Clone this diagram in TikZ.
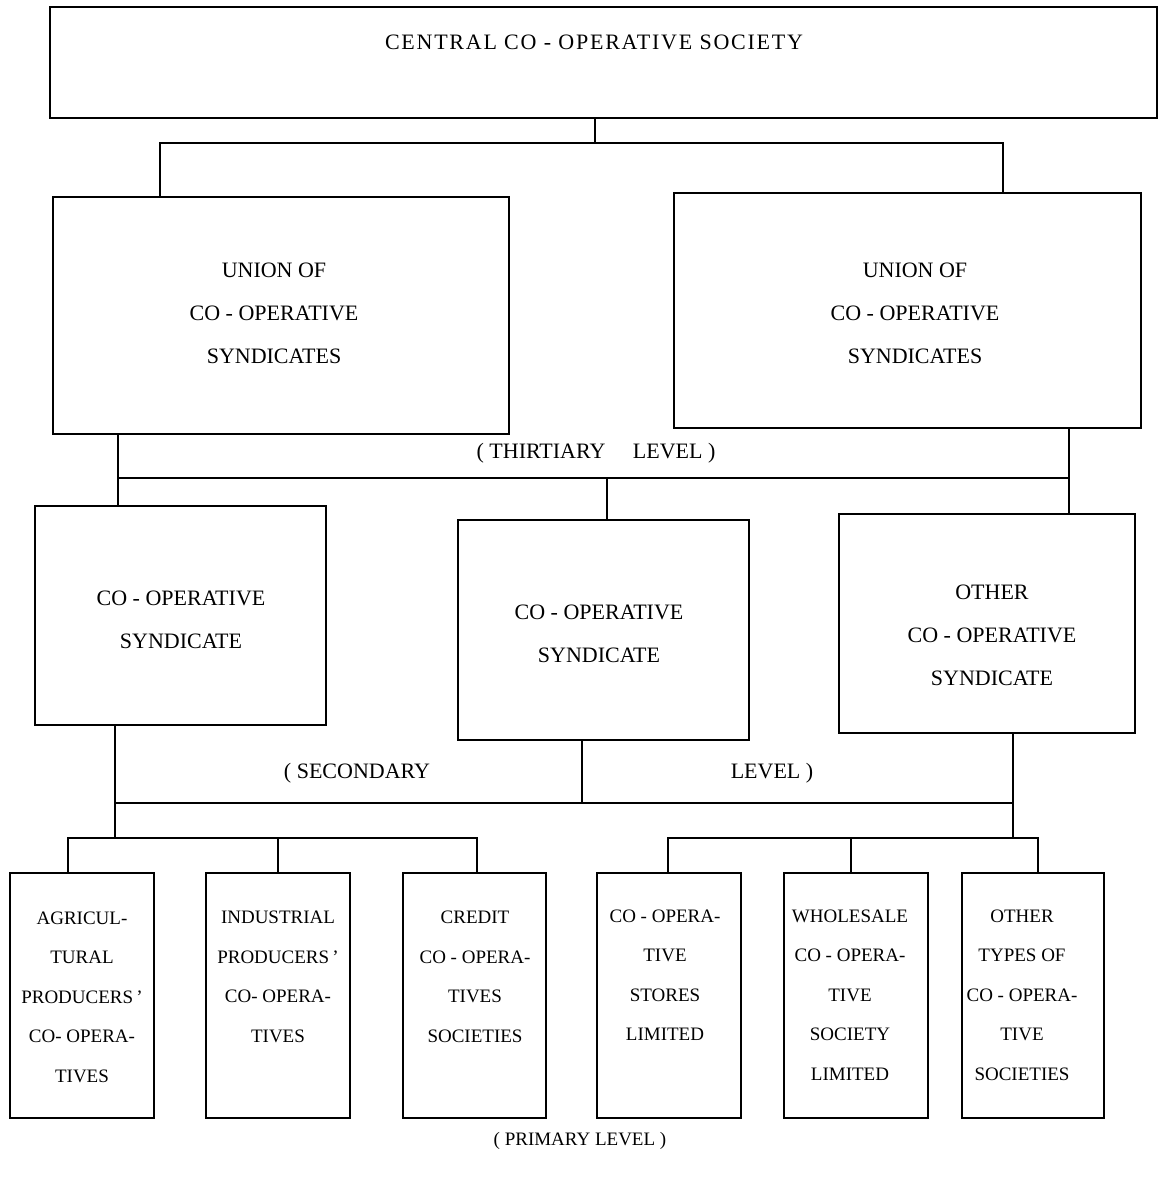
\documentclass[tikz,border=0pt]{standalone}
\usepackage{fontspec}
\setmainfont{Liberation Serif}
\begin{document}
\begin{tikzpicture}[x=1pt,y=-1pt,
  box/.style={draw,line width=1.3pt,inner sep=0pt,minimum width=#1},
  big/.style={font=\fontsize{22}{43}\selectfont,align=center,inner sep=0pt},
  small/.style={font=\fontsize{19}{39.5}\selectfont,align=center,inner sep=0pt},
  link/.style={line width=1.2pt}]
\useasboundingbox (0,0) rectangle (1161,1178);

% boxes
\node[box=1107pt,minimum height=111pt] (cs) at (603.5,62.5) {};
\node[box=456pt,minimum height=237pt] (u1) at (281,315.5) {};
\node[box=467pt,minimum height=235pt] (u2) at (907.5,310.5) {};
\node[box=291pt,minimum height=219pt] (s1) at (180.5,615.5) {};
\node[box=291pt,minimum height=220pt] (s2) at (603.5,630) {};
\node[box=296pt,minimum height=219pt] (s3) at (987,623.5) {};
\node[box=144pt,minimum height=245pt] (b1) at (82,995.5) {};
\node[box=144pt,minimum height=245pt] (b2) at (278,995.5) {};
\node[box=143pt,minimum height=245pt] (b3) at (474.5,995.5) {};
\node[box=144pt,minimum height=245pt] (b4) at (669,995.5) {};
\node[box=144pt,minimum height=245pt] (b5) at (856,995.5) {};
\node[box=142pt,minimum height=245pt] (b6) at (1033,995.5) {};

% box texts
\node[big] (tcs) at (594,42) {\addfontfeature{LetterSpace=8}CENTRAL CO - OPERATIVE SOCIETY};
\node[big] (tu1) at (274,313) {UNION OF\\CO - OPERATIVE\\SYNDICATES};
\node[big] (tu2) at (915,313) {UNION OF\\CO - OPERATIVE\\SYNDICATES};
\node[big] (ts1) at (181,620) {CO - OPERATIVE\\SYNDICATE};
\node[big] (ts2) at (599,634) {CO - OPERATIVE\\SYNDICATE};
\node[big] (ts3) at (992,635) {OTHER\\CO - OPERATIVE\\SYNDICATE};
\node[small] (tb1) at (82,997) {AGRICUL-\\TURAL\\PRODUCERS\,'\\CO- OPERA-\\TIVES};
\node[small] (tb2) at (278,977) {INDUSTRIAL\\PRODUCERS\,'\\CO- OPERA-\\TIVES};
\node[small] (tb3) at (475,977) {CREDIT\\CO - OPERA-\\TIVES\\SOCIETIES};
\node[small] (tb4) at (665,975) {CO - OPERA-\\TIVE\\STORES\\LIMITED};
\node[small] (tb5) at (850,995) {WHOLESALE\\CO - OPERA-\\TIVE\\SOCIETY\\LIMITED};
\node[small] (tb6) at (1022,995) {OTHER\\TYPES OF\\CO - OPERA-\\TIVE\\SOCIETIES};

% level labels
\node[big,anchor=base] (lv3) at (596,458) {( THIRTIARY \quad LEVEL )};
\node[big,anchor=base] (lv2a) at (357,778) {( SECONDARY};
\node[big,anchor=base] (lv2b) at (772,778) {LEVEL )};
\node[small,anchor=base] (lv1) at (580,1145) {( PRIMARY LEVEL )};

% junction points
\coordinate (j0) at (595,143);
\coordinate (jl) at (160,143);
\coordinate (jr) at (1003,143);
\coordinate (k1) at (118,478);
\coordinate (k2) at (1069,478);
\coordinate (k3) at (607,478);
\coordinate (m1) at (115,803);
\coordinate (m2) at (582,803);
\coordinate (m3) at (1013,803);
\coordinate (n1) at (115,838);
\coordinate (n2) at (1013,838);
\coordinate (p1) at (68,838);
\coordinate (p2) at (278,838);
\coordinate (p3) at (477,838);
\coordinate (q1) at (668,838);
\coordinate (q2) at (851,838);
\coordinate (q3) at (1038,838);

% connectors
\draw[link] (j0 |- cs.south) -- (j0);
\draw[link] (jl |- u1.north) -- (jl) -- (jr) -- (jr |- u2.north);
\draw[link] (k1 |- u1.south) -- (k1 |- s1.north);
\draw[link] (k2 |- u2.south) -- (k2 |- s3.north);
\draw[link] (k1) -- (k2);
\draw[link] (k3) -- (k3 |- s2.north);
\draw[link] (m1 |- s1.south) -- (n1);
\draw[link] (m3 |- s3.south) -- (n2);
\draw[link] (m2 |- s2.south) -- (m2);
\draw[link] (m1) -- (m3);
\draw[link] (p1 |- b1.north) -- (p1) -- (p3) -- (p3 |- b3.north);
\draw[link] (p2) -- (p2 |- b2.north);
\draw[link] (q1 |- b4.north) -- (q1) -- (q3) -- (q3 |- b6.north);
\draw[link] (q2) -- (q2 |- b5.north);
\end{tikzpicture}
\end{document}
